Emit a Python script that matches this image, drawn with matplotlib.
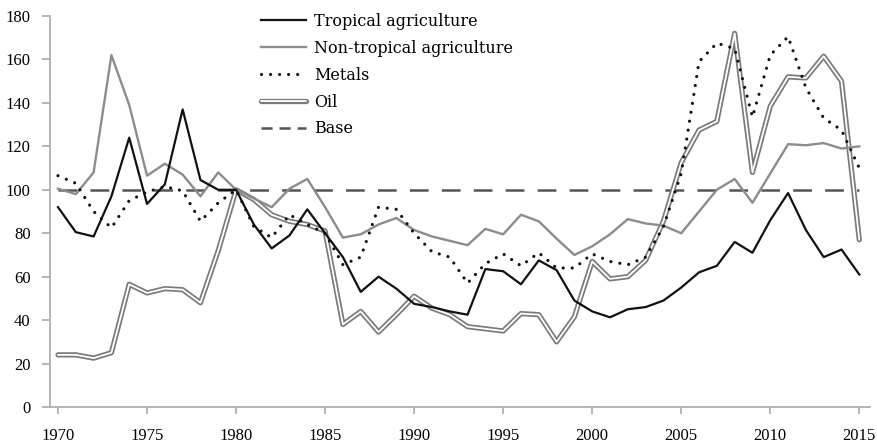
import matplotlib
matplotlib.use("Agg")
import matplotlib.pyplot as plt
from matplotlib.lines import Line2D
from matplotlib.legend_handler import HandlerTuple
import numpy as np

plt.rcParams['font.family'] = ['Liberation Serif', 'DejaVu Serif']
plt.rcParams['lines.scale_dashes'] = False

years = np.arange(1970, 2016)

tropical = [92, 80.5, 78.5, 97, 124, 93.5, 102.5, 137, 104.5, 100, 100,
            84, 73, 79, 91, 80, 69, 53, 60, 54.5, 47.5, 46, 44, 42.5,
            63.5, 62.5, 56.5, 67.5, 63, 49, 44, 41.3, 45, 46, 49, 55,
            62, 65, 76, 71, 86, 98.5, 81.5, 69, 72.5, 61]

non_tropical = [100.5, 98, 108, 162, 139, 106.5, 112, 107, 97, 108, 100,
                96, 92, 100.5, 105, 92, 78, 79.5, 84, 87, 81.5, 78.5, 76.5, 74.5,
                82, 79.5, 88.5, 85.5, 77.5, 70, 74, 79.5, 86.5, 84.5, 83.5, 80,
                90, 100, 105, 94, 107.5, 121, 120.5, 121.5, 119, 120]

metals = [106.5, 103, 90, 82.5, 95, 99, 101.5, 99.5, 85.5, 94, 100,
          83, 78, 88.5, 84, 80, 65.5, 69, 92, 91, 80, 71.5, 69, 57,
          66, 70.5, 65, 71, 64, 64, 70.5, 67, 65.5, 69, 83, 107.5,
          159, 167.5, 165, 133.5, 162, 170.5, 147, 133, 127.5, 110]

oil = [24, 24, 22.5, 25, 56.5, 52.5, 54.5, 54, 48, 72, 100,
       95.5, 88.5, 85.5, 84, 81, 38, 44, 34.5, 42.5, 51, 45.5, 42.5, 37,
       36, 35, 43, 42.5, 30, 41.5, 67, 59, 60, 67.5, 85.5, 112.5,
       127.5, 131.5, 172, 108, 138.5, 152, 151.5, 161.5, 150, 77]

base = [100] * len(years)

labels = ["Tropical agriculture", "Non-tropical agriculture", "Metals", "Oil", "Base"]

fig = plt.figure(figsize=(8.77, 4.45), dpi=100)
ax = fig.add_axes([0.057, 0.0854, 0.935, 0.8786])

# oil: grey outer line with white core
ax.plot(years, oil, color='#7a7a7a', lw=3.8, solid_joinstyle='round',
        solid_capstyle='round', zorder=2)
ax.plot(years, oil, color='white', lw=1.3, solid_joinstyle='round',
        solid_capstyle='round', zorder=2.1)
ax.plot(years, base, color='#555555', lw=1.8, dashes=(13.5, 9.5), zorder=1.5)
ax.plot(years, non_tropical, color='#8c8c8c', lw=1.7, zorder=3)
ax.plot(years, tropical, color='#111111', lw=1.6, zorder=4)
ax.plot(years, metals, color='#111111', lw=2.3, dashes=(0.01, 6.5),
        dash_capstyle='round', zorder=5)

ax.set_xlim(1969.55, 2015.6)
ax.set_ylim(0, 180)
ax.set_xticks(np.arange(1970, 2016, 5))
ax.set_yticks(np.arange(0, 181, 20))

for side in ['top', 'right']:
    ax.spines[side].set_visible(False)
for side in ['left', 'bottom']:
    ax.spines[side].set_color('#b0b0b0')
    ax.spines[side].set_linewidth(1.3)
ax.tick_params(axis='y', direction='out', length=6, width=1.3, color='#b0b0b0',
               labelsize=12, pad=8)
ax.tick_params(axis='x', direction='out', length=5, width=1.3, color='#b0b0b0',
               labelsize=12, pad=10)

# legend handles
h_trop = Line2D([], [], color='#111111', lw=1.6)
h_non = Line2D([], [], color='#8c8c8c', lw=1.7)
h_met = Line2D([], [], color='#111111', lw=2.3, dashes=(0.01, 6.5), dash_capstyle='round')
h_oil = (Line2D([], [], color='#7a7a7a', lw=3.8, solid_capstyle='round'),
         Line2D([], [], color='white', lw=1.3, solid_capstyle='round'))
h_base = Line2D([], [], color='#555555', lw=1.8, dashes=(8, 5))

leg = ax.legend([h_trop, h_non, h_met, h_oil, h_base], labels,
                handler_map={tuple: HandlerTuple(ndivide=1, pad=0)},
                loc='upper left', bbox_to_anchor=(0.24, 1.045), frameon=False,
                prop={'family': ['DejaVu Serif'], 'size': 11.5},
                handlelength=2.8, handletextpad=0.5, labelspacing=0.62)

fig.savefig('out.png', dpi=100)
